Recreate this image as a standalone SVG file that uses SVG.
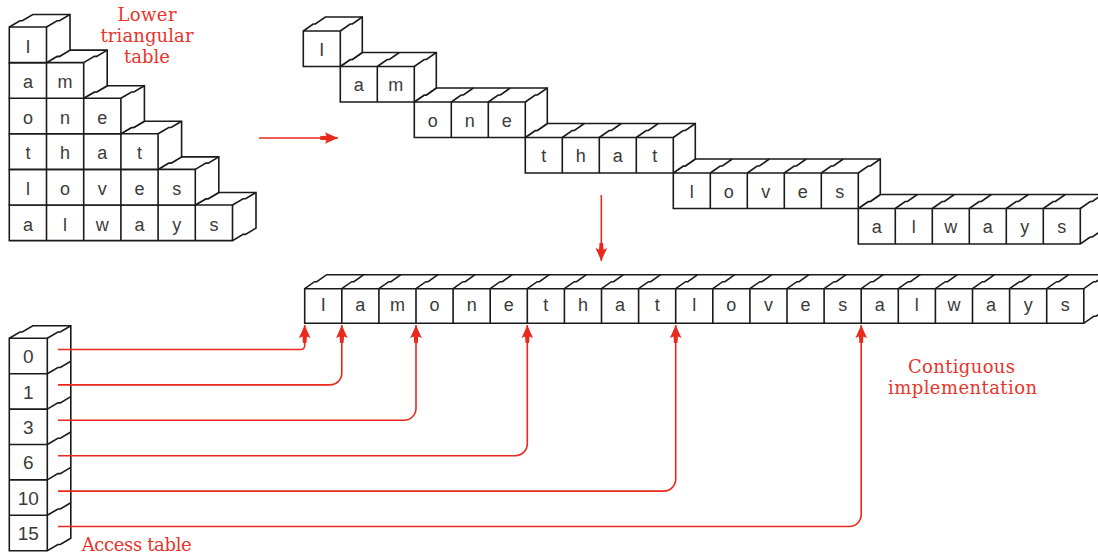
<svg xmlns="http://www.w3.org/2000/svg" xmlns:xlink="http://www.w3.org/1999/xlink" width="1098" height="557" viewBox="0 0 1098 557">
<style>
.box{fill:#fff;stroke:#1a1a1a;stroke-width:1.6;stroke-linejoin:miter}
.ln{fill:none;stroke:#1a1a1a;stroke-width:1.6}
.ch{font-family:"Liberation Sans",Arial,sans-serif;font-size:18px;fill:#3a3a3a;text-anchor:middle}
.num{font-family:"Liberation Sans",Arial,sans-serif;font-size:19px;fill:#3a3a3a;text-anchor:middle}
.lbl{font-family:"DejaVu Serif","Liberation Serif",serif;font-size:18px;fill:#e8352b;text-anchor:middle}
.arr{fill:none;stroke:#e8291c;stroke-width:1.6}
</style>
<defs>
<path id="zz" class="ln" d="M0,0 l10.6,-6.25 l2.4,0 l10.5,-6.25"/>
<path id="zz2" class="ln" d="M0,0 l9.9,-7 l2.2,0 l9.9,-7"/>
<marker id="ah" viewBox="-19 -7 20 14" refX="0" refY="0" markerWidth="20" markerHeight="14" markerUnits="userSpaceOnUse" orient="auto">
<path d="M0,0 L-8,-3.5 L-13,-5.8 L-11.5,-2.2 L-18,-1.8 L-18,1.8 L-11.5,2.2 L-13,5.8 L-8,3.5 Z" fill="#e8291c"/>
</marker>
</defs>

<g id="lower-triangular-table">
<g id="tri-row6" transform="translate(9.3,205)">
<path class="box" d="M0,0 V35.6 H223.2 l10.6,-6.25 l2.4,0 l10.5,-6.25 V-12.5 H23.5 l-10.5,6.25 l-2.4,0 l-10.6,6.25 Z"/>
<path class="ln" d="M0,0 H223.2 V35.6 M37.2,0 V35.6 M74.4,0 V35.6 M111.6,0 V35.6 M148.8,0 V35.6 M186,0 V35.6"/>
<use xlink:href="#zz" x="37.2" y="0"/><use xlink:href="#zz" x="74.4" y="0"/><use xlink:href="#zz" x="111.6" y="0"/><use xlink:href="#zz" x="148.8" y="0"/><use xlink:href="#zz" x="186" y="0"/><use xlink:href="#zz" x="223.2" y="0"/>
<text class="ch" x="18.6" y="25.5">a</text><text class="ch" x="55.8" y="25.5">l</text><text class="ch" x="93" y="25.5">w</text><text class="ch" x="130.2" y="25.5">a</text><text class="ch" x="167.4" y="25.5">y</text><text class="ch" x="204.6" y="25.5">s</text>
</g>
<g id="tri-row5" transform="translate(9.3,169.4)">
<path class="box" d="M0,0 V35.6 H186 l10.6,-6.25 l2.4,0 l10.5,-6.25 V-12.5 H23.5 l-10.5,6.25 l-2.4,0 l-10.6,6.25 Z"/>
<path class="ln" d="M0,0 H186 V35.6 M37.2,0 V35.6 M74.4,0 V35.6 M111.6,0 V35.6 M148.8,0 V35.6"/>
<use xlink:href="#zz" x="37.2" y="0"/><use xlink:href="#zz" x="74.4" y="0"/><use xlink:href="#zz" x="111.6" y="0"/><use xlink:href="#zz" x="148.8" y="0"/><use xlink:href="#zz" x="186" y="0"/>
<text class="ch" x="18.6" y="25.5">l</text><text class="ch" x="55.8" y="25.5">o</text><text class="ch" x="93" y="25.5">v</text><text class="ch" x="130.2" y="25.5">e</text><text class="ch" x="167.4" y="25.5">s</text>
</g>
<g id="tri-row4" transform="translate(9.3,133.8)">
<path class="box" d="M0,0 V35.6 H148.8 l10.6,-6.25 l2.4,0 l10.5,-6.25 V-12.5 H23.5 l-10.5,6.25 l-2.4,0 l-10.6,6.25 Z"/>
<path class="ln" d="M0,0 H148.8 V35.6 M37.2,0 V35.6 M74.4,0 V35.6 M111.6,0 V35.6"/>
<use xlink:href="#zz" x="37.2" y="0"/><use xlink:href="#zz" x="74.4" y="0"/><use xlink:href="#zz" x="111.6" y="0"/><use xlink:href="#zz" x="148.8" y="0"/>
<text class="ch" x="18.6" y="25.5">t</text><text class="ch" x="55.8" y="25.5">h</text><text class="ch" x="93" y="25.5">a</text><text class="ch" x="130.2" y="25.5">t</text>
</g>
<g id="tri-row3" transform="translate(9.3,98.2)">
<path class="box" d="M0,0 V35.6 H111.6 l10.6,-6.25 l2.4,0 l10.5,-6.25 V-12.5 H23.5 l-10.5,6.25 l-2.4,0 l-10.6,6.25 Z"/>
<path class="ln" d="M0,0 H111.6 V35.6 M37.2,0 V35.6 M74.4,0 V35.6"/>
<use xlink:href="#zz" x="37.2" y="0"/><use xlink:href="#zz" x="74.4" y="0"/><use xlink:href="#zz" x="111.6" y="0"/>
<text class="ch" x="18.6" y="25.5">o</text><text class="ch" x="55.8" y="25.5">n</text><text class="ch" x="93" y="25.5">e</text>
</g>
<g id="tri-row2" transform="translate(9.3,62.6)">
<path class="box" d="M0,0 V35.6 H74.4 l10.6,-6.25 l2.4,0 l10.5,-6.25 V-12.5 H23.5 l-10.5,6.25 l-2.4,0 l-10.6,6.25 Z"/>
<path class="ln" d="M0,0 H74.4 V35.6 M37.2,0 V35.6"/>
<use xlink:href="#zz" x="37.2" y="0"/><use xlink:href="#zz" x="74.4" y="0"/>
<text class="ch" x="18.6" y="25.5">a</text><text class="ch" x="55.8" y="25.5">m</text>
</g>
<g id="tri-row1" transform="translate(9.3,27)">
<path class="box" d="M0,0 V35.6 H37.2 l10.6,-6.25 l2.4,0 l10.5,-6.25 V-12.5 H23.5 l-10.5,6.25 l-2.4,0 l-10.6,6.25 Z"/>
<path class="ln" d="M0,0 H37.2 V35.6"/>
<use xlink:href="#zz" x="37.2" y="0"/>
<text class="ch" x="18.6" y="25.5">I</text>
</g>
</g>

<g id="label-lower-triangular">
<text class="lbl" x="147" y="21" textLength="59">Lower</text>
<text class="lbl" x="147" y="42" textLength="93">triangular</text>
<text class="lbl" x="147" y="63" textLength="46">table</text>
</g>

<g id="staircase">
<g id="st-row6" transform="translate(858.3,208.5)">
<path class="box" d="M0,0 V35.5 H222 l9.9,-7 l2.2,0 l9.9,-7 V-14 H22 l-9.9,7 l-2.2,0 l-9.9,7 Z"/>
<path class="ln" d="M0,0 H222 V35.5 M37,0 V35.5 M74,0 V35.5 M111,0 V35.5 M148,0 V35.5 M185,0 V35.5"/>
<use xlink:href="#zz2" x="37" y="0"/><use xlink:href="#zz2" x="74" y="0"/><use xlink:href="#zz2" x="111" y="0"/><use xlink:href="#zz2" x="148" y="0"/><use xlink:href="#zz2" x="185" y="0"/><use xlink:href="#zz2" x="222" y="0"/>
<text class="ch" x="18.5" y="24.5">a</text><text class="ch" x="55.5" y="24.5">l</text><text class="ch" x="92.5" y="24.5">w</text><text class="ch" x="129.5" y="24.5">a</text><text class="ch" x="166.5" y="24.5">y</text><text class="ch" x="203.5" y="24.5">s</text>
</g>
<g id="st-row5" transform="translate(673.3,173)">
<path class="box" d="M0,0 V35.5 H185 l9.9,-7 l2.2,0 l9.9,-7 V-14 H22 l-9.9,7 l-2.2,0 l-9.9,7 Z"/>
<path class="ln" d="M0,0 H185 V35.5 M37,0 V35.5 M74,0 V35.5 M111,0 V35.5 M148,0 V35.5"/>
<use xlink:href="#zz2" x="37" y="0"/><use xlink:href="#zz2" x="74" y="0"/><use xlink:href="#zz2" x="111" y="0"/><use xlink:href="#zz2" x="148" y="0"/><use xlink:href="#zz2" x="185" y="0"/>
<text class="ch" x="18.5" y="24.5">l</text><text class="ch" x="55.5" y="24.5">o</text><text class="ch" x="92.5" y="24.5">v</text><text class="ch" x="129.5" y="24.5">e</text><text class="ch" x="166.5" y="24.5">s</text>
</g>
<g id="st-row4" transform="translate(525.3,137.5)">
<path class="box" d="M0,0 V35.5 H148 l9.9,-7 l2.2,0 l9.9,-7 V-14 H22 l-9.9,7 l-2.2,0 l-9.9,7 Z"/>
<path class="ln" d="M0,0 H148 V35.5 M37,0 V35.5 M74,0 V35.5 M111,0 V35.5"/>
<use xlink:href="#zz2" x="37" y="0"/><use xlink:href="#zz2" x="74" y="0"/><use xlink:href="#zz2" x="111" y="0"/><use xlink:href="#zz2" x="148" y="0"/>
<text class="ch" x="18.5" y="24.5">t</text><text class="ch" x="55.5" y="24.5">h</text><text class="ch" x="92.5" y="24.5">a</text><text class="ch" x="129.5" y="24.5">t</text>
</g>
<g id="st-row3" transform="translate(414.3,102)">
<path class="box" d="M0,0 V35.5 H111 l9.9,-7 l2.2,0 l9.9,-7 V-14 H22 l-9.9,7 l-2.2,0 l-9.9,7 Z"/>
<path class="ln" d="M0,0 H111 V35.5 M37,0 V35.5 M74,0 V35.5"/>
<use xlink:href="#zz2" x="37" y="0"/><use xlink:href="#zz2" x="74" y="0"/><use xlink:href="#zz2" x="111" y="0"/>
<text class="ch" x="18.5" y="24.5">o</text><text class="ch" x="55.5" y="24.5">n</text><text class="ch" x="92.5" y="24.5">e</text>
</g>
<g id="st-row2" transform="translate(340.3,66.5)">
<path class="box" d="M0,0 V35.5 H74 l9.9,-7 l2.2,0 l9.9,-7 V-14 H22 l-9.9,7 l-2.2,0 l-9.9,7 Z"/>
<path class="ln" d="M0,0 H74 V35.5 M37,0 V35.5"/>
<use xlink:href="#zz2" x="37" y="0"/><use xlink:href="#zz2" x="74" y="0"/>
<text class="ch" x="18.5" y="24.5">a</text><text class="ch" x="55.5" y="24.5">m</text>
</g>
<g id="st-row1" transform="translate(303.3,31)">
<path class="box" d="M0,0 V35.5 H37 l9.9,-7 l2.2,0 l9.9,-7 V-14 H22 l-9.9,7 l-2.2,0 l-9.9,7 Z"/>
<path class="ln" d="M0,0 H37 V35.5"/>
<use xlink:href="#zz2" x="37" y="0"/>
<text class="ch" x="18.5" y="24.5">I</text>
</g>
</g>

<g id="contiguous-row" transform="translate(304.7,288.7)">
<path class="box" d="M0,0 V34.6 H779.1 l9.9,-7 l2.2,0 l9.9,-7 V-14 H22 l-9.9,7 l-2.2,0 l-9.9,7 Z"/>
<path class="ln" d="M0,0 H779.1 V34.6 M37.1,0 V34.6 M74.2,0 V34.6 M111.3,0 V34.6 M148.4,0 V34.6 M185.5,0 V34.6 M222.6,0 V34.6 M259.7,0 V34.6 M296.8,0 V34.6 M333.9,0 V34.6 M371,0 V34.6 M408.1,0 V34.6 M445.2,0 V34.6 M482.3,0 V34.6 M519.4,0 V34.6 M556.5,0 V34.6 M593.6,0 V34.6 M630.7,0 V34.6 M667.8,0 V34.6 M704.9,0 V34.6 M742,0 V34.6"/>
<use xlink:href="#zz2" x="37.1" y="0"/><use xlink:href="#zz2" x="74.2" y="0"/><use xlink:href="#zz2" x="111.3" y="0"/><use xlink:href="#zz2" x="148.4" y="0"/><use xlink:href="#zz2" x="185.5" y="0"/><use xlink:href="#zz2" x="222.6" y="0"/><use xlink:href="#zz2" x="259.7" y="0"/><use xlink:href="#zz2" x="296.8" y="0"/><use xlink:href="#zz2" x="333.9" y="0"/><use xlink:href="#zz2" x="371" y="0"/><use xlink:href="#zz2" x="408.1" y="0"/><use xlink:href="#zz2" x="445.2" y="0"/><use xlink:href="#zz2" x="482.3" y="0"/><use xlink:href="#zz2" x="519.4" y="0"/><use xlink:href="#zz2" x="556.5" y="0"/><use xlink:href="#zz2" x="593.6" y="0"/><use xlink:href="#zz2" x="630.7" y="0"/><use xlink:href="#zz2" x="667.8" y="0"/><use xlink:href="#zz2" x="704.9" y="0"/><use xlink:href="#zz2" x="742" y="0"/><use xlink:href="#zz2" x="779.1" y="0"/>
<text class="ch" x="18.55" y="22">I</text><text class="ch" x="55.65" y="22">a</text><text class="ch" x="92.75" y="22">m</text><text class="ch" x="129.85" y="22">o</text><text class="ch" x="166.95" y="22">n</text><text class="ch" x="204.05" y="22">e</text><text class="ch" x="241.15" y="22">t</text><text class="ch" x="278.25" y="22">h</text><text class="ch" x="315.35" y="22">a</text><text class="ch" x="352.45" y="22">t</text><text class="ch" x="389.55" y="22">l</text><text class="ch" x="426.65" y="22">o</text><text class="ch" x="463.75" y="22">v</text><text class="ch" x="500.85" y="22">e</text><text class="ch" x="537.95" y="22">s</text><text class="ch" x="575.05" y="22">a</text><text class="ch" x="612.15" y="22">l</text><text class="ch" x="649.25" y="22">w</text><text class="ch" x="686.35" y="22">a</text><text class="ch" x="723.45" y="22">y</text><text class="ch" x="760.55" y="22">s</text>
</g>

<g id="label-contiguous">
<text class="lbl" x="961.5" y="373" textLength="107">Contiguous</text>
<text class="lbl" x="962.5" y="393.5" textLength="149">implementation</text>
</g>

<g id="access-table" transform="translate(9.3,338.3)">
<path class="box" d="M0,0 V212.4 H38 l10.6,-6.25 l2.4,0 l10.5,-6.25 V-12.5 H23.5 l-10.5,6.25 l-2.4,0 l-10.6,6.25 Z"/>
<path class="ln" d="M0,0 H38 V212.4 M0,35.4 H38 M0,70.8 H38 M0,106.2 H38 M0,141.6 H38 M0,177 H38"/>
<use xlink:href="#zz" x="38" y="0"/><use xlink:href="#zz" x="38" y="35.4"/><use xlink:href="#zz" x="38" y="70.8"/><use xlink:href="#zz" x="38" y="106.2"/><use xlink:href="#zz" x="38" y="141.6"/><use xlink:href="#zz" x="38" y="177"/>
<text class="num" x="19" y="25">0</text><text class="num" x="19" y="60.4">1</text><text class="num" x="19" y="95.8">3</text><text class="num" x="19" y="131.2">6</text><text class="num" x="19" y="166.6">10</text><text class="num" x="19" y="202">15</text>
</g>

<g id="label-access">
<text class="lbl" x="136.7" y="551" textLength="110">Access table</text>
</g>

<g id="connectors">
<path class="arr" d="M259,138 H338" marker-end="url(#ah)"/>
<path class="arr" d="M601.3,195 V261" marker-end="url(#ah)"/>
<path class="arr" d="M58,349.5 H300.7 A4,4 0 0 0 304.7,345.5 V325" marker-end="url(#ah)"/>
<path class="arr" d="M58,384.9 H329.8 A12,12 0 0 0 341.8,372.9 V325" marker-end="url(#ah)"/>
<path class="arr" d="M58,420.3 H404 A12,12 0 0 0 416,408.3 V325" marker-end="url(#ah)"/>
<path class="arr" d="M58,455.7 H515.3 A12,12 0 0 0 527.3,443.7 V325" marker-end="url(#ah)"/>
<path class="arr" d="M58,491.1 H663.7 A12,12 0 0 0 675.7,479.1 V325" marker-end="url(#ah)"/>
<path class="arr" d="M58,526.5 H849.2 A12,12 0 0 0 861.2,514.5 V325" marker-end="url(#ah)"/>
</g>
</svg>
